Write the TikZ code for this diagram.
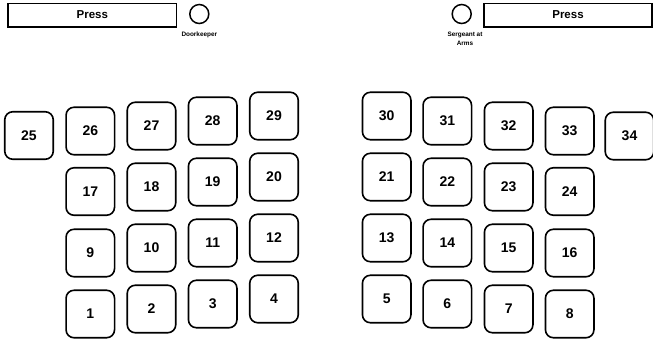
\documentclass[tikz,border=0pt]{standalone}
\usepackage{fontspec}
\setmainfont{Liberation Sans}
\usetikzlibrary{positioning}

\begin{document}
\begin{tikzpicture}[
  x=1pt, y=-1pt,
  seat/.style={draw, rounded corners=8pt, line width=1.6pt,
    minimum width=48.5pt, minimum height=47.5pt, inner sep=0pt,
    font=\bfseries\fontsize{14}{14}\selectfont},
  press/.style={draw, line width=1.5pt, minimum height=23.5pt,
    inner sep=0pt, font=\bfseries\fontsize{11.5}{11.5}\selectfont},
  officer/.style={draw, circle, line width=1.5pt, minimum size=19pt,
    inner sep=0pt},
  role/.style={font=\bfseries\fontsize{6.4}{9}\selectfont, align=center}
]
\useasboundingbox (0,0) rectangle (653,338);

% top row: press and officers
\node[press, minimum width=168.7pt] (pressL) at (92.3,15) {Press};
\node[officer] (door) at (199.3,14) {};
\node[role, below=4pt of door] (doorlbl) {Doorkeeper};
\node[officer] (sarge) at (461.7,14) {};
\node[role, anchor=north] (sargelbl) at (465,28.5) {Sergeant at\\Arms};
\node[press, minimum width=168pt] (pressR) at (568,15) {Press};

% left bench
\node[seat] (s25) at (29,135.5) {25};
\node[seat] (s26) at (90.3,131) {26};
\node[seat] (s27) at (151.5,126) {27};
\node[seat] (s28) at (212.7,121) {28};
\node[seat] (s29) at (274,116) {29};
\node[seat] (s17) at (90.3,191.5) {17};
\node[seat] (s18) at (151.5,187) {18};
\node[seat] (s19) at (212.7,182) {19};
\node[seat] (s20) at (274,177) {20};
\node[seat] (s9) at (90.3,253) {9};
\node[seat] (s10) at (151.5,248) {10};
\node[seat] (s11) at (212.7,243) {11};
\node[seat] (s12) at (274,238) {12};
\node[seat] (s1) at (90.3,314) {1};
\node[seat] (s2) at (151.5,309) {2};
\node[seat] (s3) at (212.7,304) {3};
\node[seat] (s4) at (274,299) {4};

% right bench
\node[seat] (s30) at (386.7,116) {30};
\node[seat] (s31) at (447.3,121) {31};
\node[seat] (s32) at (508.7,126) {32};
\node[seat] (s33) at (569.7,131) {33};
\node[seat] (s34) at (629.5,136) {34};
\node[seat] (s21) at (386.7,177) {21};
\node[seat] (s22) at (447.3,182) {22};
\node[seat] (s23) at (508.7,187) {23};
\node[seat] (s24) at (569.7,191.5) {24};
\node[seat] (s13) at (386.7,238) {13};
\node[seat] (s14) at (447.3,243) {14};
\node[seat] (s15) at (508.7,248) {15};
\node[seat] (s16) at (569.7,253) {16};
\node[seat] (s5) at (386.7,299) {5};
\node[seat] (s6) at (447.3,304) {6};
\node[seat] (s7) at (508.7,309) {7};
\node[seat] (s8) at (569.7,314) {8};

\end{tikzpicture}
\end{document}
